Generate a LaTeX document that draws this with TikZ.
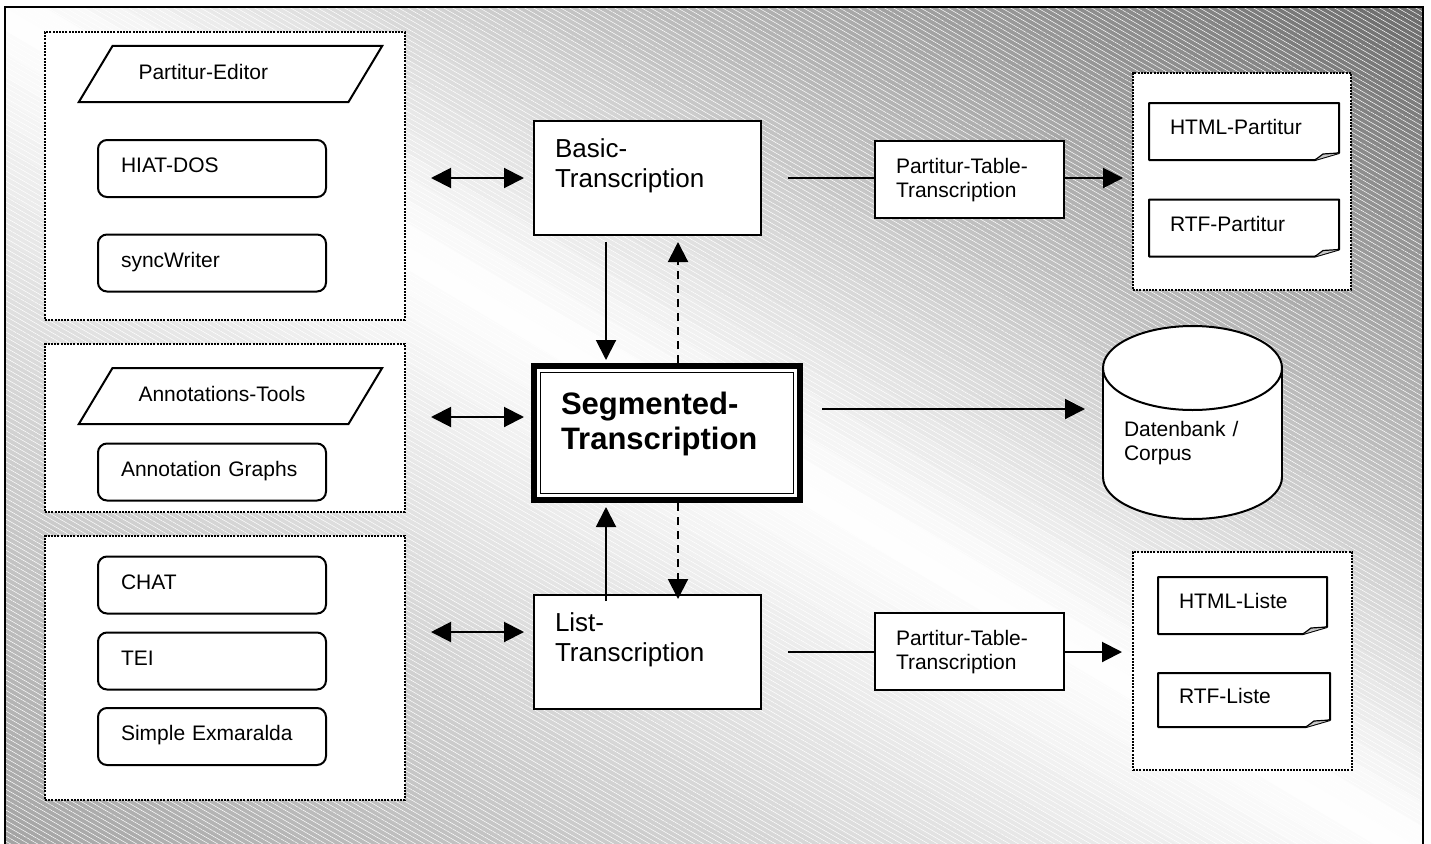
\documentclass[tikz,border=0pt]{standalone}
\usepackage{fontspec}
\setmainfont{Liberation Sans}
\usetikzlibrary{arrows.meta, shapes.geometric, patterns.meta, calc, positioning}
\definecolor{foldGrey}{HTML}{C8C8C8}
\newcommand{\smallfnt}{\fontsize{21pt}{24pt}\selectfont}
\newcommand{\midfnt}{\fontsize{26pt}{30pt}\selectfont}
\newcommand{\bigfnt}{\fontsize{31pt}{35pt}\selectfont\bfseries}
\tikzset{
  % one unit is one pixel of the sketch, so lines and tips are sized in pt
  every picture/.append style = {line width=2pt, >={Triangle[length=20pt, width=20pt]}},
  grpbox/.style    = {draw, fill=white, dash pattern=on 2pt off 1.2pt, inner sep=0pt},
  toolbox/.style   = {draw, fill=white, rounded corners=9pt, minimum width=228pt,
                      minimum height=57pt, inner xsep=23pt, inner ysep=0pt, text width=182pt,
                      align=left, font=\smallfnt, text height=15pt, text depth=7pt},
  parabox/.style   = {draw, fill=white, trapezium, trapezium left angle=59,
                      trapezium right angle=121, inner xsep=26pt, inner ysep=18pt,
                      text width=184pt, align=left, font=\smallfnt,
                      text height=15pt, text depth=5pt},
  transbox/.style  = {draw, fill=white, minimum width=227pt, minimum height=114pt,
                      inner xsep=21pt, inner ysep=0pt, text width=185pt, align=left,
                      font=\midfnt, text height=19pt, text depth=60pt},
  segbox/.style    = {draw, fill=white, line width=6pt, minimum width=266pt,
                      minimum height=134pt, inner xsep=27pt, inner ysep=0pt,
                      text width=212pt, align=left, font=\bigfnt,
                      text height=22pt, text depth=60pt},
  tablebox/.style  = {draw, fill=white, minimum width=189pt, minimum height=77pt,
                      inner xsep=21pt, inner ysep=0pt, text width=147pt, align=left,
                      font=\smallfnt, text height=15pt, text depth=27pt},
  docbox/.style    = {minimum height=57pt, inner xsep=21pt, inner ysep=0pt, outer sep=0pt,
                      text width=#1, align=left, font=\smallfnt,
                      text height=15pt, text depth=9pt},
  dbbox/.style     = {minimum width=179pt, minimum height=193pt, inner sep=0pt, outer sep=0pt},
  dbcap/.style     = {draw, fill=white, x radius=89.5pt, y radius=42pt},
  dasharrow/.style = {->, dash pattern=on 8pt off 6pt},
}

\begin{document}
\begin{tikzpicture}[x=1pt, y=-1pt]
  \useasboundingbox (0,0) rectangle (1431,843);
  % frame: grey towards the top right and bottom left, white along the diagonal
  \begin{scope}
    \clip (5,7) rectangle (1423,850);
    \begin{scope}[shift={(714,428.5)}, rotate=-30.73]
      \foreach \k in {0,...,71} {
        \pgfmathsetmacro\sa{-724.6+\k*20.13}
        \pgfmathsetmacro\sm{\sa+10.06}
        \pgfmathsetmacro\blk{\sm>0 ? 0.08005*\sm : -0.04968*\sm}
        \fill[black!\blk] (-1300,-\sa) rectangle (1300,{-\sa-20.6});
      }
    \end{scope}
    \fill[pattern={Lines[angle=-30, distance=4.5pt, line width=0.5pt]}, pattern color=white,
          fill opacity=0.1] (5,7) rectangle (1423,850);
  \end{scope}
  \draw (5,850) -- (5,7) -- (1423,7) -- (1423,850);

  % editors on the left
  \node[grpbox, minimum width=360pt, minimum height=288pt] (editgrp) at (225,176) {};
  \node[parabox] (partedit) at (230.5,74) {Partitur-Editor};
  \node[toolbox] (hiat) at (212,168.5) {HIAT-DOS};
  \node[toolbox] (sync) at (212,263) {syncWriter};

  \node[grpbox, minimum width=360pt, minimum height=168pt] (annotgrp) at (225,428) {};
  \node[parabox] (annotools) at (230.5,396) {Annotations-Tools};
  \node[toolbox] (graphs) at (212,472) {Annotation Graphs};

  \node[grpbox, minimum width=360pt, minimum height=264pt] (fmtgrp) at (225,668) {};
  \node[toolbox] (chat) at (212,585) {CHAT};
  \node[toolbox] (tei) at (212,661) {TEI};
  \node[toolbox] (simple) at (212,736.5) {Simple Exmaralda};

  % the three transcription formats
  \node[transbox] (basic) at (647.5,178) {Basic-\\Transcription};
  \node[segbox] (seg) at (667,433) {Segmented-\\Transcription};
  \draw[line width=1.8pt] ([shift={(9.5pt,-9.5pt)}]seg.north west)
    rectangle ([shift={(-9.5pt,9.5pt)}]seg.south east);
  \node[transbox] (list) at (647.5,652) {List-\\Transcription};

  % outputs on the right
  \node[tablebox] (ptt1) at (969.5,179.5) {Partitur-Table-\\Transcription};
  \node[tablebox] (ptt2) at (969.5,651) {Partitur-Table-\\Transcription};

  \node[grpbox, minimum width=218pt, minimum height=217pt] (outpgrp) at (1242,181.5) {};
  \node[docbox=148pt] (htmlp) at (1244,131.5) {HTML-Partitur};
  \node[docbox=148pt] (rtfp) at (1244,228) {RTF-Partitur};
  \node[grpbox, minimum width=219pt, minimum height=218pt] (outlgrp) at (1242.5,661) {};
  \node[docbox=127pt] (htmll) at (1242.5,605.5) {HTML-Liste};
  \node[docbox=130pt, minimum height=54pt] (rtfl) at (1244,700) {RTF-Liste};
  \foreach \d in {htmlp, rtfp, htmll, rtfl} {
    \draw[line join=round] (\d.north west) -- (\d.north east) -- ([yshift=7pt]\d.south east)
      -- ([xshift=-24pt]\d.south east) -- (\d.south west) -- cycle;
    \draw[fill=foldGrey, line width=1.2pt, line join=round] ([xshift=-24pt]\d.south east)
      -- ([xshift=-16pt, yshift=6pt]\d.south east) -- ([yshift=7pt]\d.south east);
  }

  % database drum
  \node[dbbox] (db) at (1192.5,422.5) {};
  \draw[dbcap] ([yshift=42pt]db.south) ellipse [];
  \fill[white] ([yshift=-42pt]db.north west) rectangle ([yshift=42pt]db.south east);
  \draw ([yshift=-42pt]db.north west) -- ([yshift=42pt]db.south west)
        ([yshift=-42pt]db.north east) -- ([yshift=42pt]db.south east);
  \draw[dbcap] ([yshift=-42pt]db.north) ellipse [];
  \node[font=\smallfnt, align=left, anchor=north west, inner sep=0pt, text width=140pt,
        text height=15pt] (dbtext) at (1123,420.5) {Datenbank /\\Corpus};

  % exchange with the editors
  \coordinate (segin) at ([yshift=16pt]seg.west);
  \coordinate (listin) at ([yshift=20pt]list.west);
  \draw[<->, shorten <=25pt, shorten >=9pt] (editgrp.east |- basic.west) -- (basic.west);
  \draw[<->, shorten <=25pt, shorten >=7pt] (annotgrp.east |- segin) -- (segin);
  \draw[<->, shorten <=25pt, shorten >=9pt] (fmtgrp.east |- listin) -- (listin);

  % conversions between the formats
  \draw[->, shorten <=6pt, shorten >=3pt] ([xshift=-41.5pt]basic.south)
    -- ([xshift=-41.5pt]basic.south |- seg.north);
  \draw[dasharrow, shorten >=6pt] ([xshift=30.5pt]basic.south |- seg.north)
    -- ([xshift=30.5pt]basic.south);
  \draw[->, shorten >=4pt] ([xshift=-41.5pt, yshift=-7pt]list.north)
    -- ([xshift=-41.5pt]list.north |- seg.south);
  \draw[dasharrow] ([xshift=30.5pt]list.north |- seg.south)
    -- ([xshift=30.5pt, yshift=-5pt]list.north);

  % export
  \draw[shorten <=26pt] (basic.east) -- (basic.east -| ptt1.west);
  \draw[->, shorten >=9pt] (ptt1.east |- basic.east) -- (basic.east -| outpgrp.west);
  \draw[shorten <=26pt] (list.east) -- (list.east -| ptt2.west);
  \draw[->, shorten >=10pt] (ptt2.east |- list.east) -- (list.east -| outlgrp.west);
  \coordinate (segout) at ([yshift=24pt]seg.east);
  \draw[->, shorten <=19pt, shorten >=18pt] (segout) -- (segout -| db.west);
\end{tikzpicture}
\end{document}
